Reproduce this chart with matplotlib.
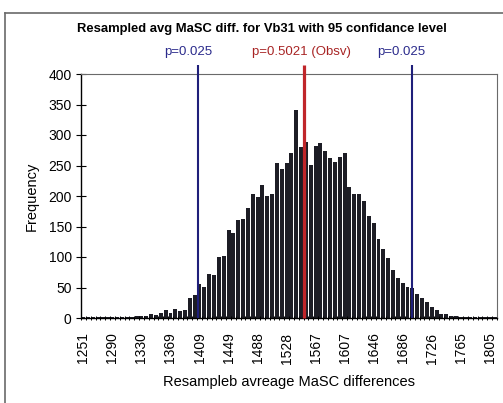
import matplotlib
matplotlib.use("Agg")
import matplotlib.pyplot as plt
from matplotlib.lines import Line2D
import numpy as np

plt.rcParams['font.family'] = ['Liberation Sans', 'DejaVu Sans']

# Histogram of resampled average MaSC differences (86 bins)
frequency = [
    1, 2, 1, 1, 2, 1, 1, 2, 1, 1, 2, 3,
    3, 4, 6, 5, 9, 13, 9, 14, 12, 13, 33, 37,
    56, 51, 72, 71, 100, 101, 144, 139, 160, 162, 180, 203,
    198, 218, 200, 203, 254, 244, 254, 271, 341, 280, 289, 251,
    282, 287, 274, 262, 256, 264, 270, 215, 203, 203, 191, 168,
    155, 130, 113, 99, 78, 65, 57, 51, 50, 39, 32, 26,
    18, 13, 6, 6, 3, 3, 2, 2, 1, 2, 1, 1,
    2, 1,
]

# Category labels shown on the x axis (every 6th bin)
tick_labels = ['1251', '1290', '1330', '1369', '1409', '1449', '1488', '1528',
               '1567', '1607', '1646', '1686', '1726', '1765', '1805']
label_every = 6

# Reference lines (bin position) and their captions
line_pos = [23.6, 45.6, 67.9]
line_text = ['p=0.025', 'p=0.5021 (Obsv)', 'p=0.025']
line_color = ['#1f1f7a', '#c0262a', '#1f1f7a']
text_color = ['#2b2b8c', '#a82424', '#2b2b8c']
line_width = [1.5, 2.3, 1.5]
line_top = 415

fig = plt.figure(figsize=(5.03, 4.03), dpi=100)
ax = fig.add_axes([81 / 503, 1 - 318 / 403, (497 - 81) / 503, (318 - 74) / 403])

n = len(frequency)
idx = np.arange(n)
ax.bar(idx, frequency, width=0.82, color='#1d1d25', linewidth=0)

ax.set_xlim(-0.5, n - 0.5)
ax.set_ylim(0, 400)
ax.set_yticks(np.arange(0, 401, 50))

major = np.arange(0, n, label_every)[:len(tick_labels)]
ax.set_xticks(major)
ax.set_xticklabels(tick_labels, rotation=90, fontsize=10)
ax.set_xticks(np.arange(-0.5, n, 1.0), minor=True)
ax.tick_params(axis='x', which='major', length=0, pad=10.5)
ax.tick_params(axis='x', which='minor', direction='inout', length=3.5, width=0.7)
ax.tick_params(axis='y', direction='inout', length=6.5, width=0.8, labelsize=10, pad=3.5)

for s in ['left', 'bottom']:
    ax.spines[s].set_color('black')
    ax.spines[s].set_linewidth(1.0)
for s in ['top', 'right']:
    ax.spines[s].set_color('#6a6a6a')
    ax.spines[s].set_linewidth(0.8)

for pos, txt, lc, tc, lw, dx in zip(line_pos, line_text, line_color, text_color,
                                   line_width, [-7, -2, -8]):
    ax.vlines(pos, 0, line_top, colors=lc, linewidth=lw, clip_on=False, zorder=3)
    ax.annotate(txt, xy=(pos, line_top), xytext=(dx, 5), textcoords='offset points',
                ha='center', va='bottom', fontsize=9.5, color=tc, annotation_clip=False)

ax.set_ylabel('Frequency', fontsize=10.5, labelpad=7)
ax.set_xlabel('Resampleb avreage MaSC differences', fontsize=10.5, labelpad=8)

fig.text(262 / 503, 1 - 29 / 403, 'Resampled avg MaSC diff. for Vb31 with 95 confidance level',
         ha='center', va='center', fontsize=9.4, fontweight='bold')

# chart frame
fig.add_artist(Line2D([5 / 503, 5 / 503], [0, 1 - 13 / 403], transform=fig.transFigure,
                      color='#6a6a6a', linewidth=1.2))
fig.add_artist(Line2D([5 / 503, 1], [1 - 13 / 403, 1 - 13 / 403], transform=fig.transFigure,
                      color='#6a6a6a', linewidth=1.2))

fig.savefig('out.png', dpi=100)
